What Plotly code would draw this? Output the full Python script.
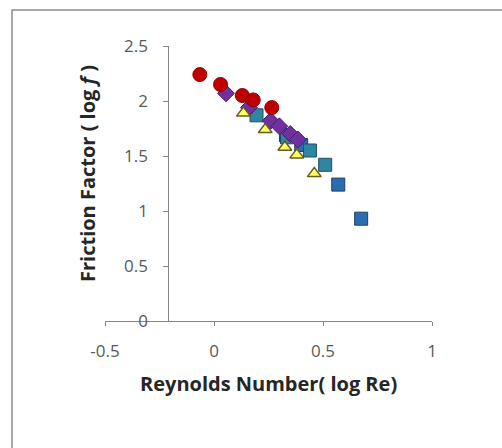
import plotly.graph_objects as go

# Data (log Re, log f)
blue_x = [0.33, 0.40, 0.57, 0.675]
blue_y = [1.69, 1.60, 1.24, 0.93]
teal_x = [0.195, 0.335, 0.44, 0.51]
teal_y = [1.87, 1.67, 1.55, 1.42]
purple_x = [0.055, 0.16, 0.26, 0.30, 0.35, 0.385]
purple_y = [2.07, 1.94, 1.82, 1.77, 1.70, 1.65]
yellow_x = [0.135, 0.235, 0.325, 0.38, 0.46]
yellow_y = [1.89, 1.74, 1.58, 1.51, 1.34]
red_x = [-0.065, 0.03, 0.13, 0.18, 0.265]
red_y = [2.24, 2.15, 2.05, 2.01, 1.94]

x_ticks = [-0.5, 0, 0.5, 1]
y_ticks = [0, 0.5, 1, 1.5, 2, 2.5]

FONT = "Open Sans"
W, H = 502, 448
L, R, T, B = 105, 70, 46, 127
PW, PH = W - L - R, H - T - B

def px2paper_x(px):
    return (px - L) / PW

def py2paper_y(py):
    return (H - B - py) / PH

fig = go.Figure()
fig.add_trace(go.Scatter(x=blue_x, y=blue_y, mode="markers",
    marker=dict(symbol="square", size=13, color="#2A6DB0",
                line=dict(color="#1F3F66", width=1))))
fig.add_trace(go.Scatter(x=teal_x, y=teal_y, mode="markers",
    marker=dict(symbol="square", size=13, color="#2E86A0",
                line=dict(color="#1F4F66", width=1))))
fig.add_trace(go.Scatter(x=purple_x, y=purple_y, mode="markers",
    marker=dict(symbol="diamond", size=13, color="#7030A0",
                line=dict(color="#4A1F6B", width=1))))
fig.add_trace(go.Scatter(x=yellow_x, y=yellow_y, mode="markers",
    marker=dict(symbol="triangle-up", size=12, color="#FFFF66",
                line=dict(color="#6B5B1F", width=1.5))))
fig.add_trace(go.Scatter(x=red_x, y=red_y, mode="markers",
    marker=dict(symbol="circle", size=14, color="#C00000",
                line=dict(color="#8B0000", width=1))))

fig.update_layout(
    width=W, height=H,
    margin=dict(l=L, r=R, t=T, b=B),
    paper_bgcolor="white", plot_bgcolor="white",
    showlegend=False,
    font=dict(family=FONT, size=17, color="#595959"),
    xaxis=dict(range=[-0.5, 1], tickvals=x_ticks, ticktext=["-0.5", "0", "0.5", "1"],
               showgrid=False, zeroline=False, showline=True, linecolor="#868686",
               linewidth=1, ticks="outside", ticklen=4, tickcolor="#868686",
               ticklabelstandoff=11, tickfont=dict(size=17, color="#595959")),
    yaxis=dict(range=[0, 2.5], tickvals=y_ticks, ticktext=["0", "0.5", "1", "1.5", "2", "2.5"],
               showgrid=False, zeroline=False, showline=True, linecolor="#868686",
               linewidth=1, ticks="outside", ticklen=5, tickcolor="#868686",
               anchor="free", position=px2paper_x(168.3), ticklabelstandoff=12,
               tickfont=dict(size=17, color="#595959")),
)

fig.add_annotation(text="Reynolds Number( log Re)", xref="paper", yref="paper",
                   x=px2paper_x(268), y=py2paper_y(383), showarrow=False,
                   xanchor="center", yanchor="middle",
                   font=dict(family=FONT, size=20, color="#262626", weight="bold"))
fig.add_annotation(text="Friction Factor ( log <i>f</i> )", xref="paper", yref="paper",
                   x=px2paper_x(87), y=py2paper_y(174), showarrow=False, textangle=-90,
                   xanchor="center", yanchor="middle",
                   font=dict(family=FONT, size=20, color="#262626", weight="bold"))

fig.add_shape(type="rect", xref="paper", yref="paper",
              x0=px2paper_x(12), x1=px2paper_x(W + 20),
              y0=py2paper_y(H + 20), y1=py2paper_y(10),
              line=dict(color="#8C8C8C", width=1.5), fillcolor="rgba(0,0,0,0)", layer="below")

fig.write_html("out.html")
